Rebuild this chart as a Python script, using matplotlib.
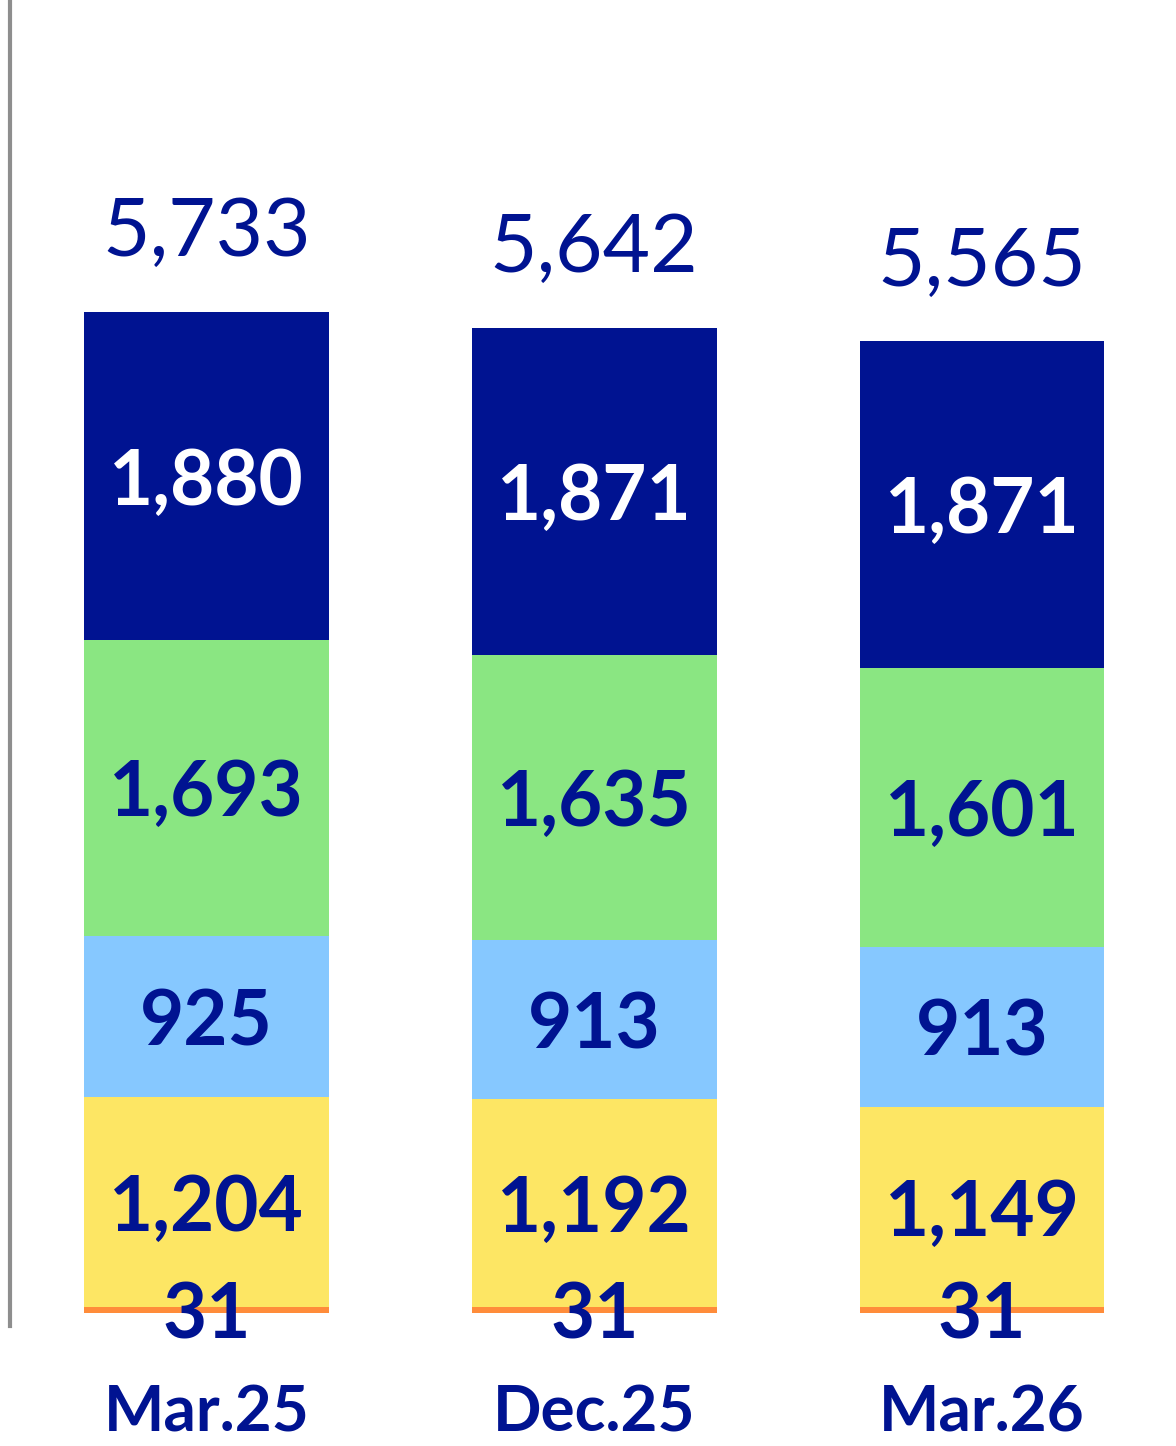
import matplotlib
matplotlib.use("Agg")
import matplotlib.pyplot as plt
import numpy as np

categories = ["Mar.25", "Dec.25", "Mar.26"]
orange_vals = [31, 31, 31]
yellow_vals = [1204, 1192, 1149]
blue_vals = [925, 913, 913]
green_vals = [1693, 1635, 1601]
navy_vals = [1880, 1871, 1871]
totals = [5733, 5642, 5565]

series = [orange_vals, yellow_vals, blue_vals, green_vals, navy_vals]
colors = ["#FF8C3A", "#FDE664", "#86C8FF", "#8AE682", "#001391"]
text_colors = ["#001391", "#001391", "#001391", "#001391", "#FFFFFF"]

NAVY = "#001391"
plt.rcParams['font.family'] = ['Lato', 'DejaVu Sans']

W, H = 1176, 1446
fig = plt.figure(figsize=(W / 100, H / 100), dpi=100)
ax_bottom_px = 1326
ax = fig.add_axes([10 / W, (H - ax_bottom_px) / H, (W - 10) / W, ax_bottom_px / H])

x = np.arange(len(categories))
bottom = np.zeros(len(categories))
for vals, c, tc in zip(series, colors, text_colors):
    vals = np.array(vals, dtype=float)
    ax.bar(x, vals, width=0.631, bottom=bottom, color=c, edgecolor='none')
    for xi, b, v in zip(x, bottom, vals):
        ax.annotate(f"{int(v):,}", (xi, b + v / 2), xytext=(0, -20.5),
                    textcoords='offset points', ha='center', va='baseline',
                    fontsize=55, fontweight='bold', color=tc)
    bottom += vals

for xi, t in zip(x, totals):
    ax.annotate(f"{t:,}", (xi, t), xytext=(0, 40), textcoords='offset points',
                ha='center', va='baseline', fontsize=59, color=NAVY)

ax.set_xlim(-0.5065, 2.5)
ax.set_ylim(-75, 7520)
for s in ['top', 'right', 'bottom']:
    ax.spines[s].set_visible(False)
ax.spines['left'].set_color('#8E8E8E')
ax.spines['left'].set_linewidth(3)
ax.set_yticks([])
ax.set_xticks(x)
ax.set_xticklabels(categories, fontsize=46, fontweight='bold', color=NAVY)
ax.tick_params(axis='x', length=0, pad=42)

fig.savefig("out.png", dpi=100)
